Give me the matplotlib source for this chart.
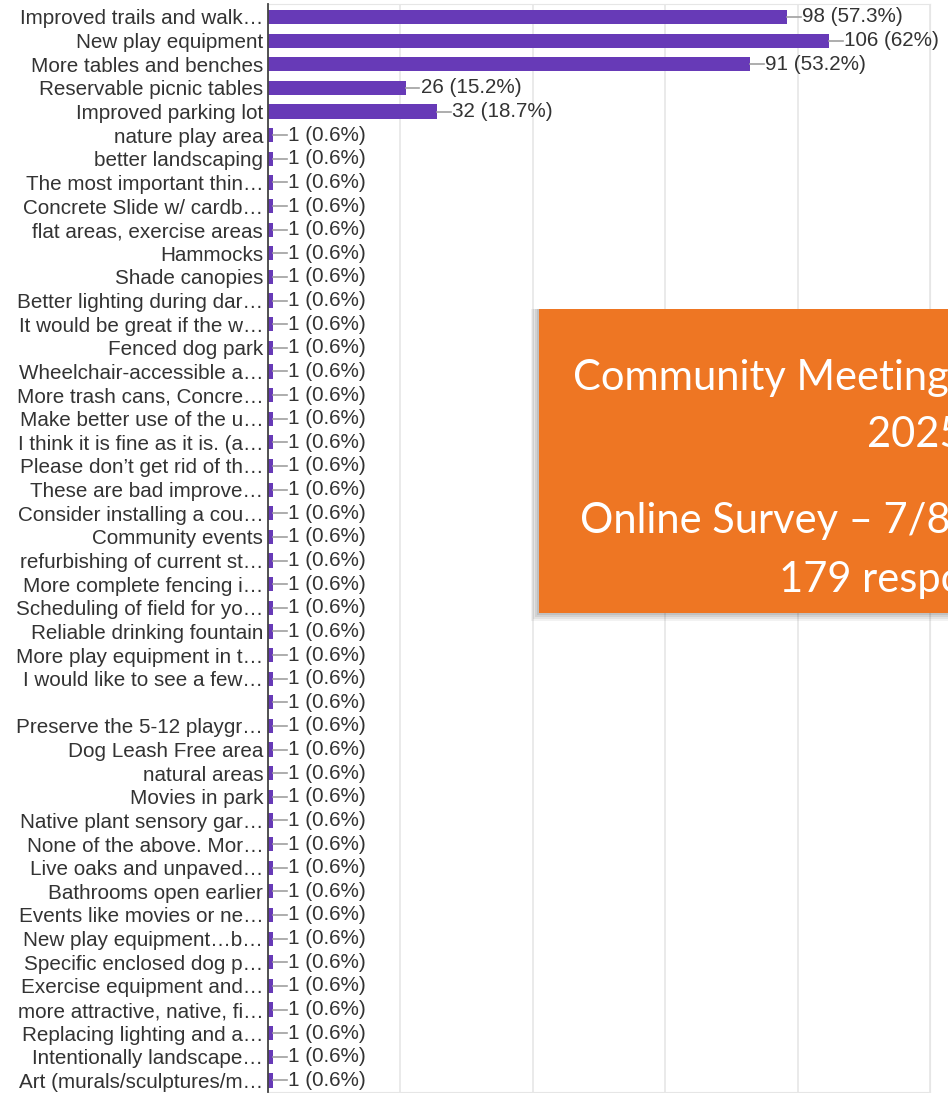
import matplotlib.pyplot as plt
from matplotlib.patches import Rectangle

# Réponses à la question (texte tronqué comme dans l'original)
labels = [
    'Improved trails and walk…', 'New play equipment', 'More tables and benches',
    'Reservable picnic tables', 'Improved parking lot', 'nature play area',
    'better landscaping', 'The most important thin…', 'Concrete Slide w/ cardb…',
    'flat areas, exercise areas', 'Hammocks', 'Shade canopies',
    'Better lighting during dar…', 'It would be great if the w…', 'Fenced dog park',
    'Wheelchair-accessible a…', 'More trash cans, Concre…', 'Make better use of the u…',
    'I think it is fine as it is. (a…', 'Please don’t get rid of th…', 'These are bad improve…',
    'Consider installing a cou…', 'Community events', 'refurbishing of current st…',
    'More complete fencing i…', 'Scheduling of field for yo…', 'Reliable drinking fountain',
    'More play equipment in t…', 'I would like to see a few…', '',
    'Preserve the 5-12 playgr…', 'Dog Leash Free area', 'natural areas',
    'Movies in park', 'Native plant sensory gar…', 'None of the above. Mor…',
    'Live oaks and unpaved…', 'Bathrooms open earlier', 'Events like movies or ne…',
    'New play equipment…b…', 'Specific enclosed dog p…', 'Exercise equipment and…',
    'more attractive, native, fi…', 'Replacing lighting and a…', 'Intentionally landscape…',
    'Art (murals/sculptures/m…',
]
counts = [98, 106, 91, 26, 32] + [1] * 41
pcts = [57.3, 62, 53.2, 15.2, 18.7] + [0.6] * 41

box_lines = ['Community Meeting', '2025', 'Online Survey – 7/8', '179 responses']

purple = '#673AB7'
orange = '#EE7623'
txt = '#333333'

plt.rcParams['font.family'] = ['Liberation Sans', 'DejaVu Sans']

fig = plt.figure(figsize=(9.48, 10.93), dpi=100)
W, H = 948, 1093
ax = fig.add_axes([268 / W, 1 - 1092 / H, (930 - 268) / W, (1092 - 4) / H])

y = list(range(len(labels)))
ax.barh(y, counts, height=0.6, color=purple, zorder=3)

# Lignes de rappel + étiquettes de valeurs
for yi, c, p in zip(y, counts, pcts):
    ax.plot([c, c + 2.6], [yi, yi], color='#a0a0a0', lw=1.2, zorder=3)
    ax.text(c + 2.8, yi, f'{c} ({p:g}%)', va='center', ha='left',
            fontsize=14.9, color=txt, zorder=4)

ax.set_xlim(0, 125)
ax.set_ylim(len(labels) - 0.51, -0.55)
ax.set_xticks([0, 25, 50, 75, 100, 125])
ax.set_xticklabels([])
ax.set_yticks(y)
ax.set_yticklabels(labels, fontsize=14.9, color=txt)
ax.tick_params(axis='both', length=0)
ax.tick_params(axis='y', pad=3.5)
ax.grid(axis='x', color='#e6e6e6', lw=1.2, zorder=0)

for s in ['top', 'bottom', 'right']:
    ax.spines[s].set_color('#e6e6e6')
ax.spines['left'].set_color('#444444')
ax.spines['left'].set_linewidth(1.3)
ax.spines['left'].set_zorder(5)

# Encadré orange par-dessus le graphique (coupé à droite)
bx, by, bw, bh = 539, 309, 500, 304
for k, a in enumerate([0.05, 0.06, 0.07, 0.08]):
    off = 8 - k * 2
    fig.patches.append(Rectangle(((bx - off) / W, 1 - (by + bh + off) / H),
                                 (bw + off) / W, (bh + off) / H,
                                 transform=fig.transFigure, color='black',
                                 alpha=a, lw=0, zorder=9))
fig.patches.append(Rectangle((bx / W, 1 - (by + bh) / H), bw / W, bh / H,
                             transform=fig.transFigure, color=orange, lw=0, zorder=10))

box_x = [573, 867, 580, 779]
box_base = [390, 447, 533, 592]
for t, xx, yy in zip(box_lines, box_x, box_base):
    fig.text(xx / W, 1 - yy / H, t, fontsize=30, color='white', family='Lato',
             ha='left', va='baseline', zorder=11)

fig.savefig('out.png', dpi=100)
